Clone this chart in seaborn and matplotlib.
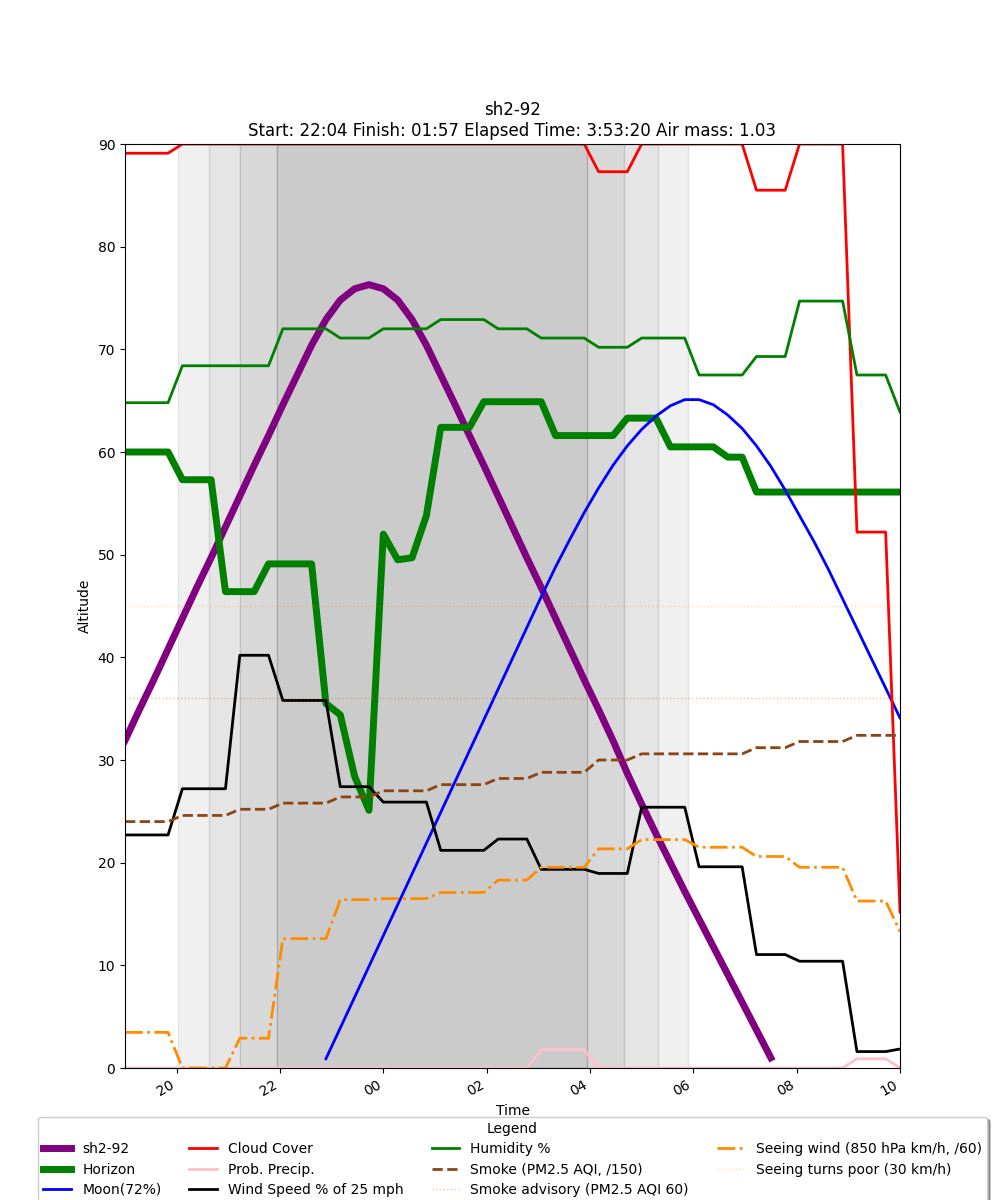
import numpy as np
import pandas as pd
import matplotlib
matplotlib.use("Agg")
import matplotlib.pyplot as plt
import matplotlib.dates as mdates
import seaborn as sns

# ---------------- data ----------------
START = "2024-08-10 19:00"
STEP_SECONDS = 1000          # sampling step of the altitude calculation
N_SAMPLES = 55               # 19:00 -> 10:00

# hourly forecast values for hours 19,20,...,23,00,...,10 (scaled to 0-90 axis)
hour_labels = ["19", "20", "21", "22", "23", "00", "01", "02", "03", "04",
               "05", "06", "07", "08", "09", "10"]
cloud_cover = [89.1, 90.0, 90.0, 90.0, 90.0, 90.0, 90.0, 90.0, 90.0, 87.3,
               90.0, 90.0, 85.5, 90.0, 52.2, 15.2]
prob_precip = [0.0, 0.0, 0.0, 0.0, 0.0, 0.0, 0.0, 0.0, 1.8, 0.0,
               0.0, 0.0, 0.0, 0.0, 0.9, 0.0]
wind_speed = [22.7, 27.2, 40.2, 35.8, 27.4, 25.9, 21.2, 22.3, 19.35, 18.95,
              25.4, 19.6, 11.05, 10.4, 1.6, 1.85]
humidity = [64.8, 68.4, 68.4, 72.0, 71.1, 72.0, 72.9, 72.0, 71.1, 70.2,
            71.1, 67.5, 69.3, 74.7, 67.5, 63.9]
smoke = [24.0, 24.6, 25.2, 25.8, 26.4, 27.0, 27.6, 28.2, 28.8, 30.0,
         30.6, 30.6, 31.2, 31.8, 32.4, 32.4]
seeing_wind = [3.47, 0.0, 2.9, 12.6, 16.4, 16.5, 17.1, 18.3, 19.55, 21.35,
               22.25, 21.5, 20.6, 19.55, 16.26, 13.3]

# per-sample values (sample k at START + k*STEP_SECONDS)
target_alt = [31.9, 34.9, 37.8, 40.8, 43.8, 46.8, 49.7, 52.7, 55.7, 58.7,
              61.6, 64.6, 67.5, 70.4, 72.9, 74.8, 75.9, 76.3, 75.9, 74.8,
              72.9, 70.4, 67.5, 64.6, 61.6, 58.7, 55.7, 52.7, 49.7, 46.8,
              43.8, 40.8, 37.8, 34.9, 31.9, 28.7, 25.7, 22.8, 20.0, 17.2,
              14.5, 11.8, 9.1, 6.4, 3.7, 1.0]                 # samples 0..45
moon_first_sample = 14
moon_alt = [0.9, 3.9, 6.9, 9.9, 12.9, 15.9, 18.9, 21.9, 24.9, 27.9,
            30.9, 33.9, 36.9, 39.9, 42.9, 45.9, 48.8, 51.5, 54.1, 56.5,
            58.7, 60.6, 62.2, 63.5, 64.5, 65.1, 65.1, 64.6, 63.6, 62.3,
            60.6, 58.6, 56.3, 53.8, 51.3, 48.6, 45.7, 42.8, 39.9, 37.0,
            34.1]                                             # samples 14..54
horizon = [60.0, 60.0, 60.0, 60.0, 57.3, 57.3, 57.3, 46.4, 46.4, 46.4,
           49.1, 49.1, 49.1, 49.1, 35.5, 34.4, 28.4, 25.1, 52.0, 49.5,
           49.7, 53.8, 62.4, 62.4, 62.4, 64.9, 64.9, 64.9, 64.9, 64.9,
           61.6, 61.6, 61.6, 61.6, 61.6, 63.3, 63.3, 63.3, 60.5, 60.5,
           60.5, 60.5, 59.5, 59.5, 56.1, 56.1, 56.1, 56.1, 56.1, 56.1,
           56.1, 56.1, 56.1, 56.1, 56.1]

# twilight periods (evening start, morning end): sunset, civil, nautical, astronomical
twilight_start = ["20:01", "20:37", "21:14", "21:57"]
twilight_end = ["05:54", "05:19", "04:40", "03:57"]
twilight_face = ["#f0f0f0", "#e5e5e5", "#d8d8d8", "#cbcbcb"]
twilight_edge = ["#e2e2e2", "#d0d0d0", "#c2c2c2", "#a9a9a9"]

smoke_advisory = 36.0   # PM2.5 AQI 60 scaled /150 * 90
seeing_poor = 45.0      # 30 km/h scaled /60 * 90

title = "sh2-92\nStart: 22:04 Finish: 01:57 Elapsed Time: 3:53:20 Air mass: 1.03"

# ---------------- build frames ----------------
t0 = pd.Timestamp(START)
times = t0 + pd.to_timedelta(np.arange(N_SAMPLES) * STEP_SECONDS, unit="s")
hour_idx = ((times - t0) // pd.Timedelta(hours=1)).astype(int)

def hourly_frame(vals):
    arr = np.asarray(vals)[hour_idx]
    return pd.DataFrame({"time": times, "value": arr})

df_target = pd.DataFrame({"time": times[:len(target_alt)], "value": target_alt})
df_moon = pd.DataFrame({"time": times[moon_first_sample:moon_first_sample + len(moon_alt)],
                        "value": moon_alt})
df_horizon = pd.DataFrame({"time": times, "value": horizon})

def to_time(hhmm):
    t = pd.Timestamp(t0.strftime("%Y-%m-%d") + " " + hhmm)
    if t < t0:
        t += pd.Timedelta(days=1)
    return t

# ---------------- plot ----------------
fig, ax = plt.subplots(figsize=(10, 12), dpi=100)
fig.subplots_adjust(left=0.125, right=0.9, top=0.88, bottom=0.11)

for s, e, fc, ec in zip(twilight_start, twilight_end, twilight_face, twilight_edge):
    ax.axvspan(to_time(s), to_time(e), facecolor=fc, edgecolor=ec, lw=1, zorder=0)

sns.lineplot(data=df_target, x="time", y="value", ax=ax, color="purple", lw=5, label="sh2-92")
sns.lineplot(data=df_horizon, x="time", y="value", ax=ax, color="green", lw=5, label="Horizon")
sns.lineplot(data=df_moon, x="time", y="value", ax=ax, color="blue", lw=2, label="Moon(72%)")
sns.lineplot(data=hourly_frame(cloud_cover), x="time", y="value", ax=ax, color="red", lw=2,
             label="Cloud Cover")
sns.lineplot(data=hourly_frame(prob_precip), x="time", y="value", ax=ax, color="pink", lw=2,
             label="Prob. Precip.")
sns.lineplot(data=hourly_frame(wind_speed), x="time", y="value", ax=ax, color="black", lw=2,
             label="Wind Speed % of 25 mph")
sns.lineplot(data=hourly_frame(humidity), x="time", y="value", ax=ax, color="green", lw=2,
             label="Humidity %")
sns.lineplot(data=hourly_frame(smoke), x="time", y="value", ax=ax, color="#8B4513", lw=2,
             linestyle="--", label="Smoke (PM2.5 AQI, /150)")
ax.axhline(smoke_advisory, color="chocolate", alpha=0.4, lw=1, linestyle=":",
           label="Smoke advisory (PM2.5 AQI 60)")
sns.lineplot(data=hourly_frame(seeing_wind), x="time", y="value", ax=ax, color="darkorange",
             lw=2, linestyle="-.", label="Seeing wind (850 hPa km/h, /60)")
ax.axhline(seeing_poor, color="darkorange", alpha=0.3, lw=1, linestyle=":",
           label="Seeing turns poor (30 km/h)")

ax.set_xlim(times[0], times[-1])
ax.set_ylim(0, 90)
ax.xaxis.set_major_locator(mdates.HourLocator(byhour=range(0, 24, 2)))
ax.xaxis.set_major_formatter(mdates.DateFormatter("%H"))
for lbl in ax.get_xticklabels():
    lbl.set_rotation(30)
    lbl.set_ha("right")

ax.set_title(title)
ax.set_xlabel("Time")
ax.set_ylabel("Altitude")

handles, labels = ax.get_legend_handles_labels()
ax.legend(handles, labels, loc="upper center", bbox_to_anchor=(0.5, -0.045),
          fancybox=True, shadow=True, ncol=4, title="Legend", labelspacing=0.45)

fig.savefig("out.png", dpi=100)
